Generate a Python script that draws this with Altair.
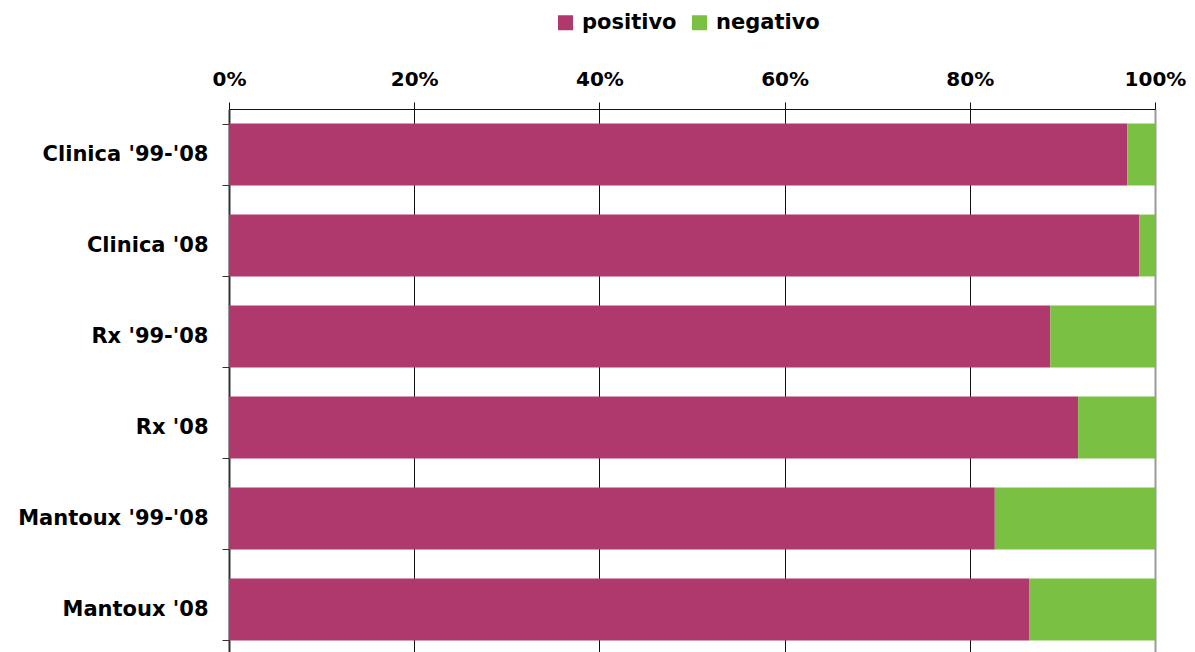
import altair as alt
import pandas as pd

categories = ["Clinica '99-'08", "Clinica '08", "Rx '99-'08", "Rx '08", "Mantoux '99-'08", "Mantoux '08"]
positivo = [97.0, 98.3, 88.7, 91.7, 82.7, 86.4]
negativo = [3.0, 1.7, 11.3, 8.3, 17.3, 13.6]
series = ["positivo", "negativo"]
colors = ["#AF396D", "#7AC143"]

rows = []
for c, p, n in zip(categories, positivo, negativo):
    rows.append({"cat": c, "serie": "positivo", "val": p, "ord": 0})
    rows.append({"cat": c, "serie": "negativo", "val": n, "ord": 1})
df = pd.DataFrame(rows)

FONT = "DejaVu Sans"

chart = alt.Chart(df).mark_bar().encode(
    y=alt.Y("cat:N", sort=categories,
            scale=alt.Scale(paddingInner=0.32, paddingOuter=0.16),
            axis=alt.Axis(title=None, tickBand="extent", grid=False,
                          domainColor="#333333", domainWidth=2,
                          tickColor="#333333", tickSize=7, tickWidth=1,
                          labelFont=FONT, labelFontSize=21, labelFontWeight="bold",
                          labelColor="black", labelPadding=14, labelLimit=0)),
    x=alt.X("val:Q", stack="normalize",
            scale=alt.Scale(domain=[0, 1], nice=False),
            axis=alt.Axis(title=None, orient="top", format="%", values=[0, 0.2, 0.4, 0.6, 0.8, 1.0],
                          grid=True, labelFlush=False,
                          gridColor={"condition": {"test": "datum.value === 1", "value": "#9a9a9a"}, "value": "#111111"},
                          gridWidth={"condition": {"test": "datum.value === 1", "value": 2}, "value": 1},
                          domainColor="#111111", domainWidth=1,
                          tickColor="#111111", tickSize=7,
                          labelFont=FONT, labelFontSize=20, labelFontWeight="bold",
                          labelColor="black", labelPadding=13)),
    color=alt.Color("serie:N", sort=series,
                    scale=alt.Scale(domain=series, range=colors),
                    legend=alt.Legend(title=None, orient="none", direction="horizontal",
                                      legendX=326, legendY=-97,
                                      symbolType="square", symbolSize=225, symbolStrokeWidth=0,
                                      labelFont=FONT, labelFontSize=21, labelFontWeight="bold",
                                      labelColor="black", columnPadding=12, labelOffset=6)),
    order=alt.Order("ord:Q"),
).properties(
    width=926, height=546,
    autosize=alt.AutoSizeParams(type="none"),
    padding={"left": 221, "top": 101, "right": 32, "bottom": 10},
).configure_view(stroke=None).configure(background="white")

chart.save("out.html", embed_options={"renderer": "svg", "actions": False})
